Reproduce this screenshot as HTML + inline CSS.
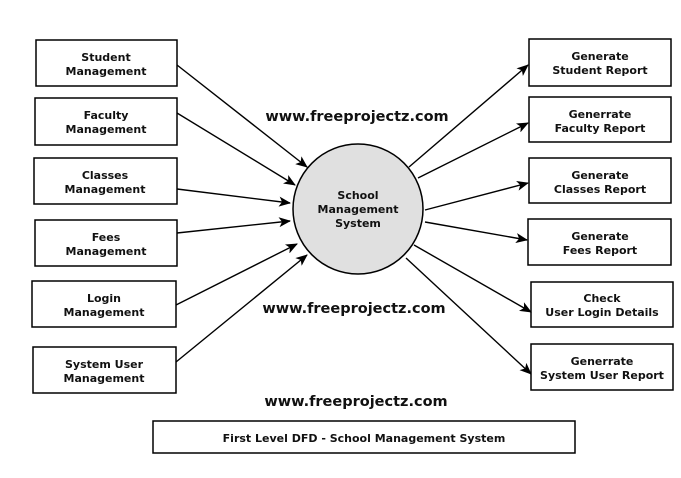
<!DOCTYPE html>
<html><head><meta charset="utf-8"><style>
html,body{margin:0;padding:0;background:#fff;}
svg{display:block;}
text{font-family:"DejaVu Sans","Liberation Sans",sans-serif;font-weight:bold;fill:#111;}
</style></head><body>
<svg width="681" height="478" viewBox="0 0 681 478" xmlns="http://www.w3.org/2000/svg">
<defs><marker id="a" markerWidth="12" markerHeight="10" refX="11" refY="5" orient="auto" markerUnits="userSpaceOnUse"><path d="M0,0 L12,5 L0,10 L3,5 z" fill="#000"/></marker></defs>
<g fill="#fff" stroke="#000" stroke-width="1.5">
<rect x="36" y="40" width="141" height="46"/>
<rect x="35" y="98" width="142" height="47"/>
<rect x="34" y="158" width="143" height="46"/>
<rect x="35" y="220" width="142" height="46"/>
<rect x="32" y="281" width="144" height="46"/>
<rect x="33" y="347" width="143" height="46"/>
<rect x="529" y="39" width="142" height="47"/>
<rect x="529" y="97" width="142" height="45"/>
<rect x="529" y="158" width="142" height="45"/>
<rect x="528" y="219" width="143" height="46"/>
<rect x="531" y="282" width="142" height="45"/>
<rect x="531" y="344" width="142" height="46"/>
<rect x="153" y="421" width="422" height="32"/>
<circle cx="358" cy="209" r="65" fill="#e0e0e0"/>
</g>
<g stroke="#000" stroke-width="1.4" marker-end="url(#a)">
<line x1="177" y1="65" x2="307" y2="167"/>
<line x1="177" y1="113" x2="295" y2="185"/>
<line x1="177" y1="189" x2="290" y2="203"/>
<line x1="177" y1="233" x2="290" y2="221"/>
<line x1="176" y1="305" x2="297" y2="244"/>
<line x1="176" y1="362" x2="307" y2="255"/>
<line x1="409" y1="167" x2="528" y2="65"/>
<line x1="418" y1="178" x2="528" y2="123"/>
<line x1="425" y1="210" x2="528" y2="183"/>
<line x1="425" y1="222" x2="527" y2="240"/>
<line x1="414" y1="245" x2="531" y2="312"/>
<line x1="406" y1="258" x2="531" y2="374"/>
</g>
<g font-size="11" text-anchor="middle">
<text x="106" y="61">Student</text><text x="106" y="75">Management</text>
<text x="106" y="119">Faculty</text><text x="106" y="133">Management</text>
<text x="105" y="179">Classes</text><text x="105" y="193">Management</text>
<text x="106" y="241">Fees</text><text x="106" y="255">Management</text>
<text x="104" y="302">Login</text><text x="104" y="316">Management</text>
<text x="104" y="368">System User</text><text x="104" y="382">Management</text>
<text x="600" y="60">Generate</text><text x="600" y="74">Student Report</text>
<text x="600" y="118">Generrate</text><text x="600" y="132">Faculty Report</text>
<text x="600" y="179">Generate</text><text x="600" y="193">Classes Report</text>
<text x="600" y="240">Generate</text><text x="600" y="254">Fees Report</text>
<text x="602" y="302">Check</text><text x="602" y="316">User Login Details</text>
<text x="602" y="365">Generrate</text><text x="602" y="379">System User Report</text>
<text x="358" y="199">School</text><text x="358" y="213">Management</text><text x="358" y="227">System</text>
<text x="364" y="442">First Level DFD - School Management System</text>
</g>
<g font-size="14.5" text-anchor="middle">
<text x="357" y="121">www.freeprojectz.com</text>
<text x="354" y="313">www.freeprojectz.com</text>
<text x="356" y="406">www.freeprojectz.com</text>
</g>
</svg>
</body></html>
